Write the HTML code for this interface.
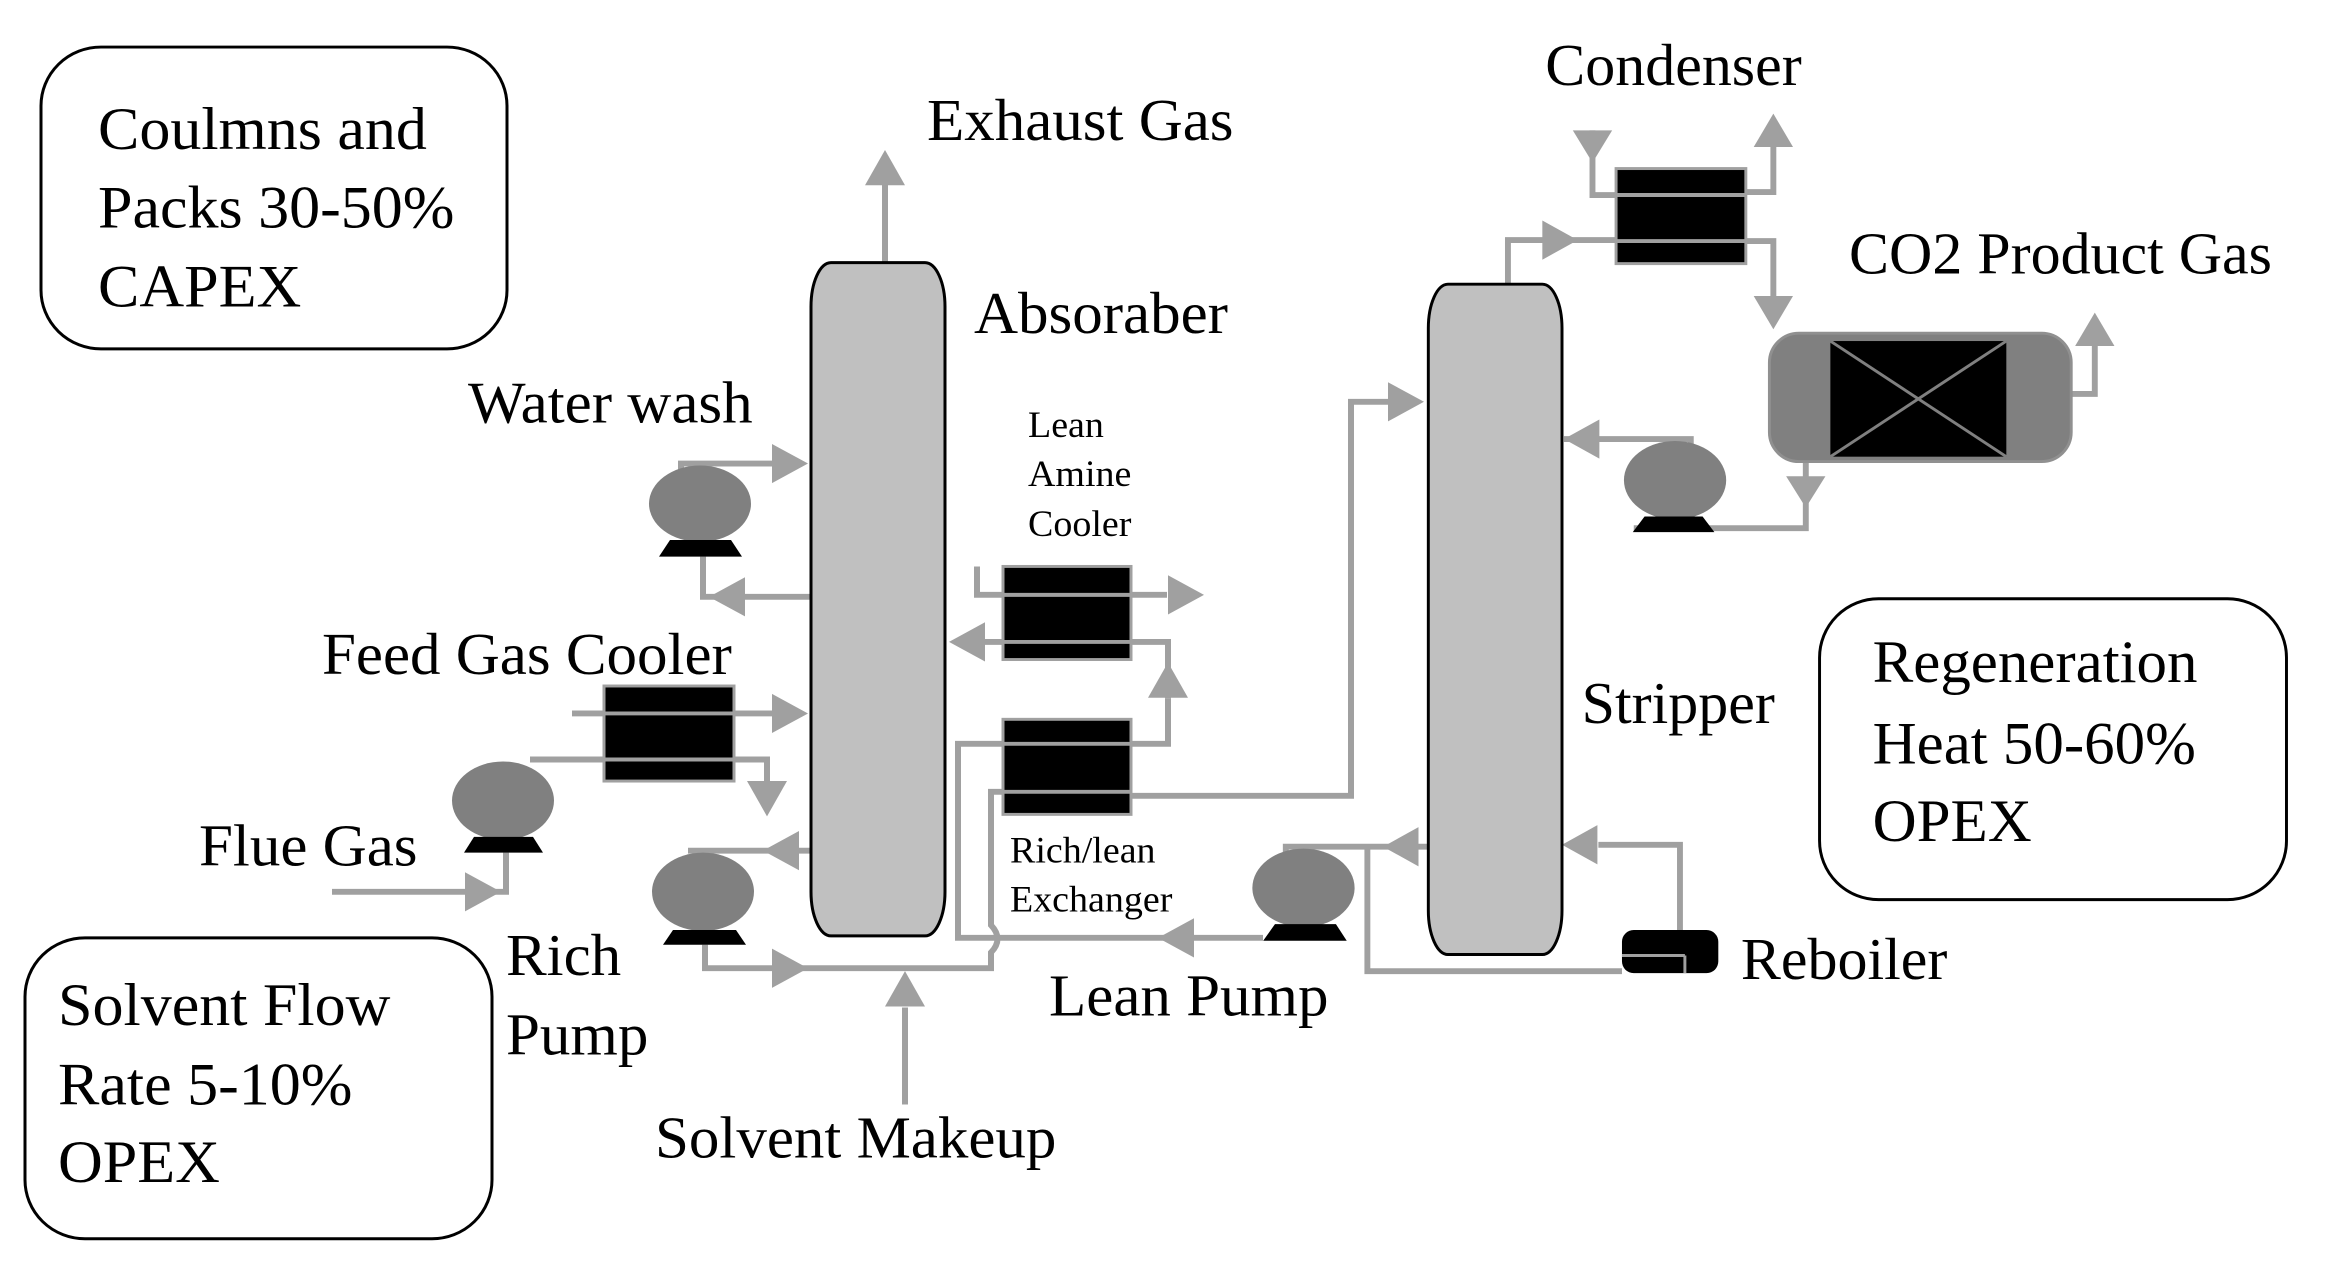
<!DOCTYPE html>
<html><head><meta charset="utf-8"><style>
html,body{margin:0;padding:0;background:#fff;}
svg{display:block;}
text{font-family:"Liberation Serif",serif;fill:#000;}
</style></head><body>
<svg width="2351" height="1271" viewBox="0 0 2351 1271" xmlns="http://www.w3.org/2000/svg">
<rect width="2351" height="1271" fill="#fff"/>
<g transform="scale(1,0.98)">
<!-- ===== LEFT / SPANNING ===== -->
<g fill="none" stroke="#000" stroke-width="3">
<rect x="41" y="48" width="466" height="308" rx="60"/>
<rect x="25" y="957" width="467" height="307" rx="60"/>
</g>
<g font-size="62">
<text x="98" y="152">Coulmns and</text>
<text x="98" y="232">Packs 30-50%</text>
<text x="98" y="313">CAPEX</text>
<text x="58" y="1046">Solvent Flow</text>
<text x="58" y="1127">Rate 5-10%</text>
<text x="58" y="1206">OPEX</text>
</g>
<g fill="none" stroke="#a0a0a0" stroke-width="6">
<path d="M885 268 V185"/>
<path d="M681 495 V473 H775"/>
<path d="M811 609 H703 V568"/>
<path d="M572 728 H775"/>
<path d="M530 775 H767 V800"/>
<path d="M332 910 H506 V870"/>
<path d="M811 868 H688"/>
<path d="M705 964 V988 H991 V972 Q1004 958 991 944 V808 H1003"/>
<path d="M905 1127 V1028"/>
<path d="M977 578 V607 H1167"/>
<path d="M985 655 H1168 V713"/>
<path d="M1131 759 H1168 V713"/>
<path d="M1263 957 H958 V759 H1003"/>
<path d="M1131 812 H1351 V410 H1388"/>
</g>
<g fill="#a0a0a0">
<polygon points="865,189 885,153 905,189"/>
<polygon points="772,453 808,473 772,493"/>
<polygon points="745,589 709,609 745,629"/>
<polygon points="772,708 808,728 772,748"/>
<polygon points="747,797 767,833 787,797"/>
<polygon points="465,890 501,910 465,930"/>
<polygon points="799,848 763,868 799,888"/>
<polygon points="772,968 808,988 772,1008"/>
<polygon points="885,1027 905,991 925,1027"/>
<polygon points="1168,587 1204,607 1168,627"/>
<polygon points="985,635 949,655 985,675"/>
<polygon points="1148,712 1168,676 1188,712"/>
<polygon points="1194,937 1158,957 1194,977"/>
<polygon points="1388,390 1424,410 1388,430"/>
</g>
<rect x="811" y="268" width="134" height="687" rx="20" ry="45" fill="#c0c0c0" stroke="#000" stroke-width="3"/>
<rect x="604" y="700" width="130" height="97" fill="#000" stroke="#a0a0a0" stroke-width="3"/>
<rect x="1003" y="578" width="128" height="95" fill="#000" stroke="#a0a0a0" stroke-width="3"/>
<rect x="1003" y="734" width="128" height="97" fill="#000" stroke="#a0a0a0" stroke-width="3"/>
<g stroke="#a0a0a0" stroke-width="4">
<line x1="604" y1="728" x2="734" y2="728"/><line x1="604" y1="775" x2="734" y2="775"/>
<line x1="1003" y1="607" x2="1131" y2="607"/><line x1="1003" y1="655" x2="1131" y2="655"/>
<line x1="1003" y1="759" x2="1131" y2="759"/><line x1="1003" y1="808" x2="1131" y2="808"/>
</g>
<g fill="#808080">
<ellipse cx="700" cy="514" rx="51" ry="39"/>
<ellipse cx="503" cy="817" rx="51" ry="40"/>
<ellipse cx="703" cy="910" rx="51" ry="40"/>
</g>
<g fill="#000">
<polygon points="670,551 731,551 742,568 659,568"/>
<polygon points="474,854 533,854 543,870 464,870"/>
<polygon points="673,949 736,949 746,964 663,964"/>
</g>
<g font-size="61">
<text x="927" y="143">Exhaust Gas</text>
<text x="974" y="340">Absoraber</text>
<text x="468" y="431">Water wash</text>
<text x="322" y="688">Feed Gas Cooler</text>
<text x="199" y="883">Flue Gas</text>
<text x="506" y="995">Rich</text>
<text x="506" y="1076">Pump</text>
<text x="655" y="1181">Solvent Makeup</text>
<text x="1049" y="1036">Lean Pump</text>
</g>
<g font-size="38">
<text x="1028" y="446">Lean</text>
<text x="1028" y="496">Amine</text>
<text x="1028" y="547">Cooler</text>
<text x="1010" y="880">Rich/lean</text>
<text x="1010" y="930">Exchanger</text>
</g>

<!-- ===== RIGHT ===== -->
<g transform="translate(1100,0) scale(0.983,1) translate(-1100,0)">
<rect x="1832" y="611" width="475" height="307" rx="60" fill="none" stroke="#000" stroke-width="3"/>
<g font-size="62">
<text x="1886" y="696">Regeneration</text>
<text x="1886" y="779">Heat 50-60%</text>
<text x="1886" y="858">OPEX</text>
</g>
<g fill="none" stroke="#a0a0a0" stroke-width="6">
<path d="M1515 290 V245 H1625"/>
<path d="M1601 133 V199 H1625"/>
<path d="M1757 196 H1785 V150"/>
<path d="M1757 246 H1785 V305"/>
<path d="M2088 402 H2112 V352"/>
<path d="M1818 471 V539 H1643"/>
<path d="M1701 470 V448 H1572"/>
<path d="M1289 880 V864 H1434"/>
<path d="M1372 864 V991 H1631"/>
<path d="M1690 949 V862 H1607"/>
</g>
<g fill="#a0a0a0">
<polygon points="1550,225 1586,245 1550,265"/>
<polygon points="1581,133 1601,166 1621,133"/>
<polygon points="1765,150 1785,116 1805,150"/>
<polygon points="1765,302 1785,336 1805,302"/>
<polygon points="2092,353 2112,319 2132,353"/>
<polygon points="1798,486 1818,518 1838,486"/>
<polygon points="1608,428 1572,448 1608,468"/>
<polygon points="1424,844 1388,864 1424,884"/>
<polygon points="1606,842 1570,862 1606,882"/>
</g>
<rect x="1434" y="290" width="136" height="684" rx="20" ry="45" fill="#c0c0c0" stroke="#000" stroke-width="3"/>
<rect x="1625" y="172" width="132" height="97" fill="#000" stroke="#a0a0a0" stroke-width="3"/>
<g stroke="#a0a0a0" stroke-width="4">
<line x1="1625" y1="199" x2="1757" y2="199"/><line x1="1625" y1="246" x2="1757" y2="246"/>
</g>
<rect x="1781" y="340" width="307" height="131" rx="30" fill="#808080" stroke="#909090" stroke-width="3"/>
<rect x="1843" y="348" width="179" height="118" fill="#000"/>
<g stroke="#808080" stroke-width="3"><line x1="1843" y1="348" x2="2022" y2="466"/><line x1="2022" y1="348" x2="1843" y2="466"/></g>
<rect x="1631" y="949" width="98" height="44" rx="12" fill="#000"/>
<line x1="1631" y1="975" x2="1695" y2="975" stroke="#a0a0a0" stroke-width="3"/>
<line x1="1695" y1="975" x2="1695" y2="993" stroke="#a0a0a0" stroke-width="3"/>
<g fill="#808080">
<ellipse cx="1685" cy="490" rx="52" ry="40"/>
<ellipse cx="1307" cy="906" rx="52" ry="40"/>
</g>
<g fill="#000">
<polygon points="1654,527 1713,527 1725,543 1642,543"/>
<polygon points="1278,943 1340,943 1351,960 1266,960"/>
</g>
<g font-size="61">
<text x="1553" y="87">Condenser</text>
<text x="1862" y="279">CO2 Product Gas</text>
<text x="1590" y="738">Stripper</text>
<text x="1752" y="999">Reboiler</text>
</g>
</g>
</g>
</svg>
</body></html>
